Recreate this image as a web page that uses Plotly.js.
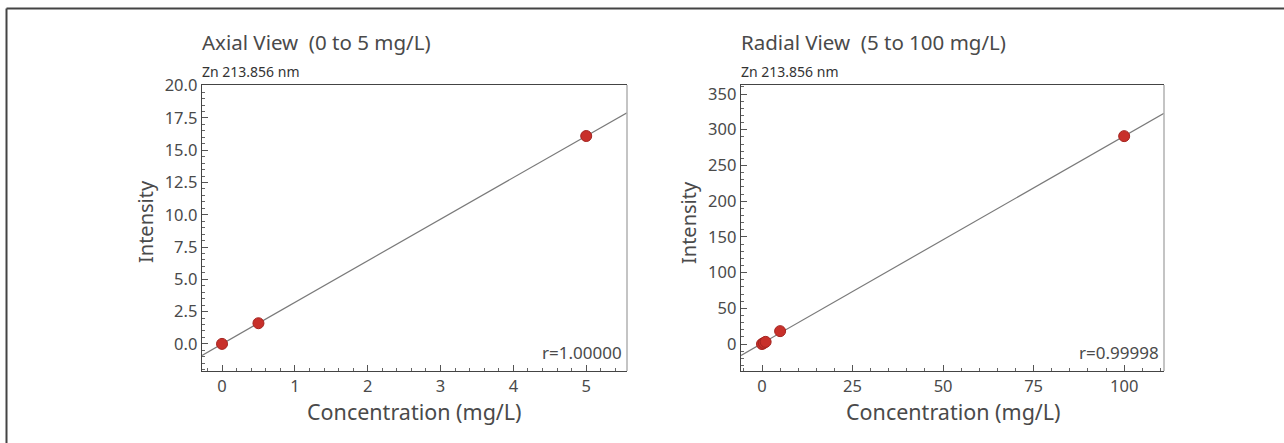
<!DOCTYPE html>
<html>
<head>
<meta charset="utf-8">
<script src="https://cdn.plot.ly/plotly-3.0.1.min.js"></script>
<style>html,body{margin:0;padding:0;background:#fff;}#chart{width:1284px;height:443px;}</style>
</head>
<body>
<div id="chart"></div>
<script>
// ---- data ----
const axialConc = [0, 0.5, 5];
const axialIntensity = [0.0, 1.6, 16.1];
const radialConc = [0, 0.5, 1, 5, 100];
const radialIntensity = [0, 1.5, 3, 18, 291];
const axialTitle = "Axial View\u00a0\u00a0(0 to 5 mg/L)";
const radialTitle = "Radial View\u00a0\u00a0(5 to 100 mg/L)";
const lineLabel = "Zn 213.856 nm";
const axialR = "r=1.00000";
const radialR = "r=0.99998";
const xTitle = "Concentration (mg/L)";
const yTitle = "Intensity";

const W = 1284, H = 443;
const FONT = "Noto Sans, Open Sans, sans-serif";
const px = v => v / W;
const py = v => 1 - v / H;

function fit(xs, ys) {
  const n = xs.length;
  const mx = xs.reduce((a,b)=>a+b,0)/n, my = ys.reduce((a,b)=>a+b,0)/n;
  let sxy = 0, sxx = 0;
  for (let i=0;i<n;i++){ sxy += (xs[i]-mx)*(ys[i]-my); sxx += (xs[i]-mx)**2; }
  const m = sxy/sxx; return {m, b: my - m*mx};
}

const axRangeX = [-0.275, 5.56], axRangeY = [-2.1, 20.05];
const raRangeX = [-5.8, 111.0], raRangeY = [-37.8, 362.6];

const f1 = fit(axialConc, axialIntensity);
const f2 = fit(radialConc, radialIntensity);

const lineStyle = {color: '#7a7a7a', width: 1.2};
const markerStyle = {color: '#c8302a', size: 11, line: {color: '#a52420', width: 1}};

const traces = [
  {x: axRangeX, y: axRangeX.map(x => f1.m*x + f1.b), mode: 'lines', line: lineStyle, xaxis: 'x', yaxis: 'y', hoverinfo: 'skip'},
  {x: axialConc, y: axialIntensity, mode: 'markers', marker: markerStyle, xaxis: 'x', yaxis: 'y'},
  {x: raRangeX, y: raRangeX.map(x => f2.m*x + f2.b), mode: 'lines', line: lineStyle, xaxis: 'x2', yaxis: 'y2', hoverinfo: 'skip'},
  {x: radialConc, y: radialIntensity, mode: 'markers', marker: markerStyle, xaxis: 'x2', yaxis: 'y2'}
];

const TXT = '#4a4a4a';
const tickFont = {family: FONT, size: 16.5, color: TXT};
function axis(extra) {
  return Object.assign({
    showline: true, linecolor: '#444', linewidth: 1.3, showgrid: false, zeroline: false,
    ticks: 'inside', ticklen: 6, tickcolor: '#555', tickwidth: 1,
    tickfont: tickFont, fixedrange: true
  }, extra);
}
const minor = d => ({ticks: 'inside', ticklen: 3, tickcolor: '#666', tickwidth: 1, dtick: d, showgrid: false});

const yDom = [py(371), py(85)];
const layout = {
  width: W, height: H,
  margin: {l: 0, r: 0, t: 0, b: 0},
  paper_bgcolor: '#fff', plot_bgcolor: '#fff',
  showlegend: false,
  xaxis: axis({domain: [px(202), px(627)], range: axRangeX, dtick: 1, tick0: 0, mirror: true, anchor: 'y', minor: minor(0.2)}),
  yaxis: axis({domain: yDom, range: axRangeY, dtick: 2.5, tick0: 0, tickformat: '.1f', anchor: 'x', minor: minor(0.5)}),
  xaxis2: axis({domain: [px(741), px(1164)], range: raRangeX, dtick: 25, tick0: 0, mirror: true, anchor: 'y2', minor: minor(5)}),
  yaxis2: axis({domain: yDom, range: raRangeY, dtick: 50, tick0: 0, anchor: 'x2', minor: minor(10)}),
  shapes: [
    {type: 'line', xref: 'paper', yref: 'paper', x0: px(627), x1: px(627), y0: yDom[0], y1: yDom[1], line: {color: '#b0b0b0', width: 1.5}},
    {type: 'line', xref: 'paper', yref: 'paper', x0: px(1164), x1: px(1164), y0: yDom[0], y1: yDom[1], line: {color: '#b0b0b0', width: 1.5}},
    {type: 'line', xref: 'paper', yref: 'paper', x0: px(6.5), x1: 1, y0: py(8.5), y1: py(8.5), line: {color: '#444', width: 2}},
    {type: 'line', xref: 'paper', yref: 'paper', x0: px(6.5), x1: px(6.5), y0: py(8.5), y1: 0, line: {color: '#444', width: 2}}
  ],
  annotations: [
    {text: axialTitle, xref: 'paper', yref: 'paper', x: px(200), y: py(42), xanchor: 'left', yanchor: 'middle', showarrow: false, font: {family: FONT, size: 20.5, color: TXT}},
    {text: radialTitle, xref: 'paper', yref: 'paper', x: px(739), y: py(42), xanchor: 'left', yanchor: 'middle', showarrow: false, font: {family: FONT, size: 20.5, color: TXT}},
    {text: lineLabel, xref: 'paper', yref: 'paper', x: px(200), y: py(71), xanchor: 'left', yanchor: 'middle', showarrow: false, font: {family: FONT, size: 14, color: '#333'}},
    {text: lineLabel, xref: 'paper', yref: 'paper', x: px(739), y: py(71), xanchor: 'left', yanchor: 'middle', showarrow: false, font: {family: FONT, size: 14, color: '#333'}},
    {text: axialR, xref: 'paper', yref: 'paper', x: px(624), y: py(352), xanchor: 'right', yanchor: 'middle', showarrow: false, font: {family: FONT, size: 17, color: TXT}},
    {text: radialR, xref: 'paper', yref: 'paper', x: px(1161), y: py(352), xanchor: 'right', yanchor: 'middle', showarrow: false, font: {family: FONT, size: 17, color: TXT}},
    {text: xTitle, xref: 'paper', yref: 'paper', x: px(414), y: py(411), xanchor: 'center', yanchor: 'middle', showarrow: false, font: {family: FONT, size: 21.5, color: TXT}},
    {text: xTitle, xref: 'paper', yref: 'paper', x: px(953), y: py(411), xanchor: 'center', yanchor: 'middle', showarrow: false, font: {family: FONT, size: 21.5, color: TXT}},
    {text: yTitle, xref: 'paper', yref: 'paper', x: px(145), y: py(222), xanchor: 'center', yanchor: 'middle', textangle: -90, showarrow: false, font: {family: FONT, size: 20, color: TXT}},
    {text: yTitle, xref: 'paper', yref: 'paper', x: px(688), y: py(222), xanchor: 'center', yanchor: 'middle', textangle: -90, showarrow: false, font: {family: FONT, size: 20, color: TXT}}
  ]
};

Plotly.newPlot('chart', traces, layout, {displayModeBar: false, staticPlot: true});
</script>
</body>
</html>
